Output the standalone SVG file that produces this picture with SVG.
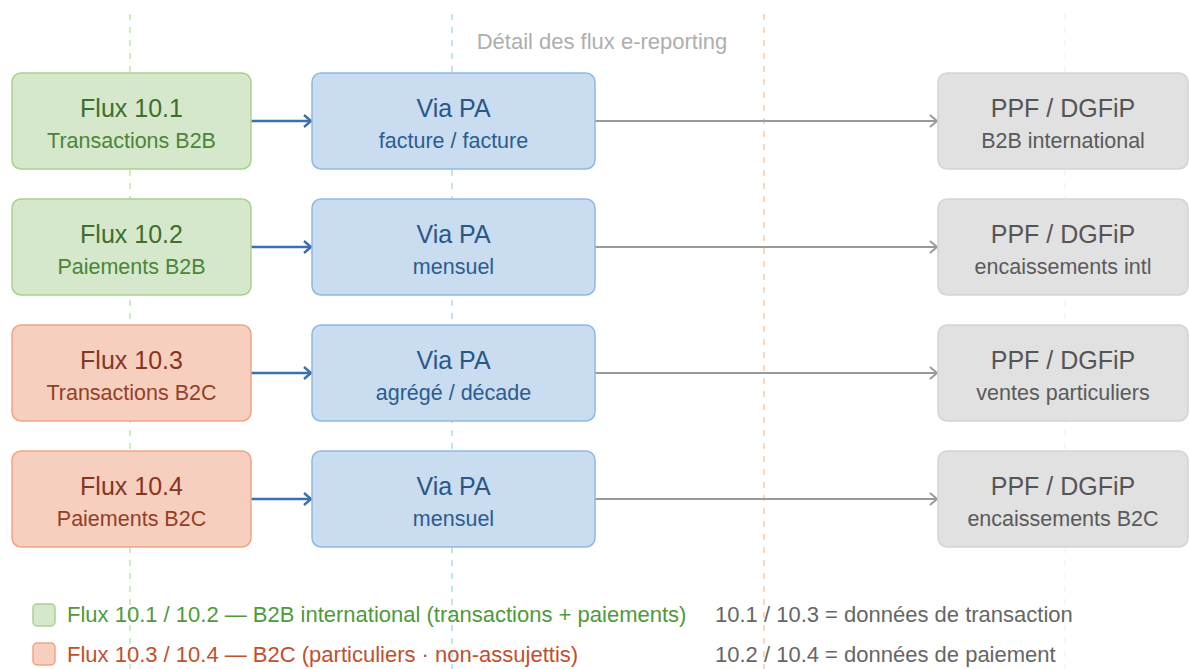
<svg xmlns="http://www.w3.org/2000/svg" width="1189" height="669" viewBox="0 0 1189 669">
<style>
text{font-family:"Liberation Sans",Arial,sans-serif;text-anchor:middle}
.vl{stroke-width:1.5;stroke-dasharray:6 7;fill:none}
.g rect{fill:#d5e8cc;stroke:#a9d18e;stroke-width:1.5}
.o rect{fill:#f6cfbf;stroke:#f2a583;stroke-width:1.5}
.b rect{fill:#c9dcf0;stroke:#8fb8e6;stroke-width:1.5}
.p rect{fill:#e1e1e1;stroke:#d4d4d4;stroke-width:1.5}
.t{font-size:25px}
.s{font-size:21.5px}
.g .t{fill:#3f6e2d}.g .s{fill:#4c8539}
.o .t{fill:#86361f}.o .s{fill:#944027}
.b .t{fill:#2b5788}.b .s{fill:#2d5c90}
.p .t{fill:#555}.p .s{fill:#5a5a5a}
.ab{stroke:#3a70b0;stroke-width:2.5;fill:none}
.ag{stroke:#999;stroke-width:2;fill:none}
.lg{font-size:22px;text-anchor:start}
</style>
<defs>
<marker id="mb" markerWidth="12" markerHeight="14" refX="10" refY="7" orient="auto" markerUnits="userSpaceOnUse"><path d="M3,1 L10,7 L3,13" fill="none" stroke="#3a70b0" stroke-width="2.4"/></marker>
<marker id="mg" markerWidth="12" markerHeight="14" refX="10" refY="7" orient="auto" markerUnits="userSpaceOnUse"><path d="M3,1 L10,7 L3,13" fill="none" stroke="#999" stroke-width="2"/></marker>
</defs>
<rect width="1189" height="669" fill="#fff"/>
<g id="guides">
<line class="vl" x1="130" y1="14" x2="130" y2="669" stroke="#bfe6ab"/>
<line class="vl" x1="452" y1="14" x2="452" y2="669" stroke="#aadcf5"/>
<line class="vl" x1="764" y1="14" x2="764" y2="669" stroke="#f8caa8"/>
<line class="vl" x1="1065" y1="14" x2="1065" y2="669" stroke="#f3f3f3"/>
</g>
<text x="602" y="49" style="font-size:22px;fill:#aeaeae">Détail des flux e-reporting</text>
<g id="connectors">
<line class="ab" x1="251" y1="121" x2="311" y2="121" marker-end="url(#mb)"/>
<line class="ab" x1="251" y1="247" x2="311" y2="247" marker-end="url(#mb)"/>
<line class="ab" x1="251" y1="373" x2="311" y2="373" marker-end="url(#mb)"/>
<line class="ab" x1="251" y1="499" x2="311" y2="499" marker-end="url(#mb)"/>
<line class="ag" x1="595" y1="121" x2="937" y2="121" marker-end="url(#mg)"/>
<line class="ag" x1="595" y1="247" x2="937" y2="247" marker-end="url(#mg)"/>
<line class="ag" x1="595" y1="373" x2="937" y2="373" marker-end="url(#mg)"/>
<line class="ag" x1="595" y1="499" x2="937" y2="499" marker-end="url(#mg)"/>
</g>
<g id="flux101" class="g"><rect x="12" y="73" width="239" height="96" rx="9"/><text class="t" x="131.5" y="117">Flux 10.1</text><text class="s" x="131.5" y="148">Transactions B2B</text></g>
<g id="flux102" class="g"><rect x="12" y="199" width="239" height="96" rx="9"/><text class="t" x="131.5" y="243">Flux 10.2</text><text class="s" x="131.5" y="274">Paiements B2B</text></g>
<g id="flux103" class="o"><rect x="12" y="325" width="239" height="96" rx="9"/><text class="t" x="131.5" y="369">Flux 10.3</text><text class="s" x="131.5" y="400">Transactions B2C</text></g>
<g id="flux104" class="o"><rect x="12" y="451" width="239" height="96" rx="9"/><text class="t" x="131.5" y="495">Flux 10.4</text><text class="s" x="131.5" y="526">Paiements B2C</text></g>
<g id="pa1" class="b"><rect x="312" y="73" width="283" height="96" rx="9"/><text class="t" x="453.5" y="117">Via PA</text><text class="s" x="453.5" y="148">facture / facture</text></g>
<g id="pa2" class="b"><rect x="312" y="199" width="283" height="96" rx="9"/><text class="t" x="453.5" y="243">Via PA</text><text class="s" x="453.5" y="274">mensuel</text></g>
<g id="pa3" class="b"><rect x="312" y="325" width="283" height="96" rx="9"/><text class="t" x="453.5" y="369">Via PA</text><text class="s" x="453.5" y="400">agrégé / décade</text></g>
<g id="pa4" class="b"><rect x="312" y="451" width="283" height="96" rx="9"/><text class="t" x="453.5" y="495">Via PA</text><text class="s" x="453.5" y="526">mensuel</text></g>
<g id="ppf1" class="p"><rect x="938" y="73" width="250" height="96" rx="9"/><text class="t" x="1063" y="117">PPF / DGFiP</text><text class="s" x="1063" y="148">B2B international</text></g>
<g id="ppf2" class="p"><rect x="938" y="199" width="250" height="96" rx="9"/><text class="t" x="1063" y="243">PPF / DGFiP</text><text class="s" x="1063" y="274">encaissements intl</text></g>
<g id="ppf3" class="p"><rect x="938" y="325" width="250" height="96" rx="9"/><text class="t" x="1063" y="369">PPF / DGFiP</text><text class="s" x="1063" y="400">ventes particuliers</text></g>
<g id="ppf4" class="p"><rect x="938" y="451" width="250" height="96" rx="9"/><text class="t" x="1063" y="495">PPF / DGFiP</text><text class="s" x="1063" y="526">encaissements B2C</text></g>
<g id="legend">
<rect x="33" y="604" width="22" height="22" rx="4" fill="#d5e8cc" stroke="#a9d18e" stroke-width="1.5"/>
<rect x="33" y="643" width="22" height="22" rx="4" fill="#f6cfbf" stroke="#f2a583" stroke-width="1.5"/>
<text class="lg" x="67" y="622" fill="#4e9a3a">Flux 10.1 / 10.2 — B2B international (transactions + paiements)</text>
<text class="lg" x="67" y="662" fill="#c0502c">Flux 10.3 / 10.4 — B2C (particuliers · non-assujettis)</text>
<text class="lg" x="715" y="622" fill="#666">10.1 / 10.3 = données de transaction</text>
<text class="lg" x="715" y="662" fill="#666">10.2 / 10.4 = données de paiement</text>
</g>
</svg>
